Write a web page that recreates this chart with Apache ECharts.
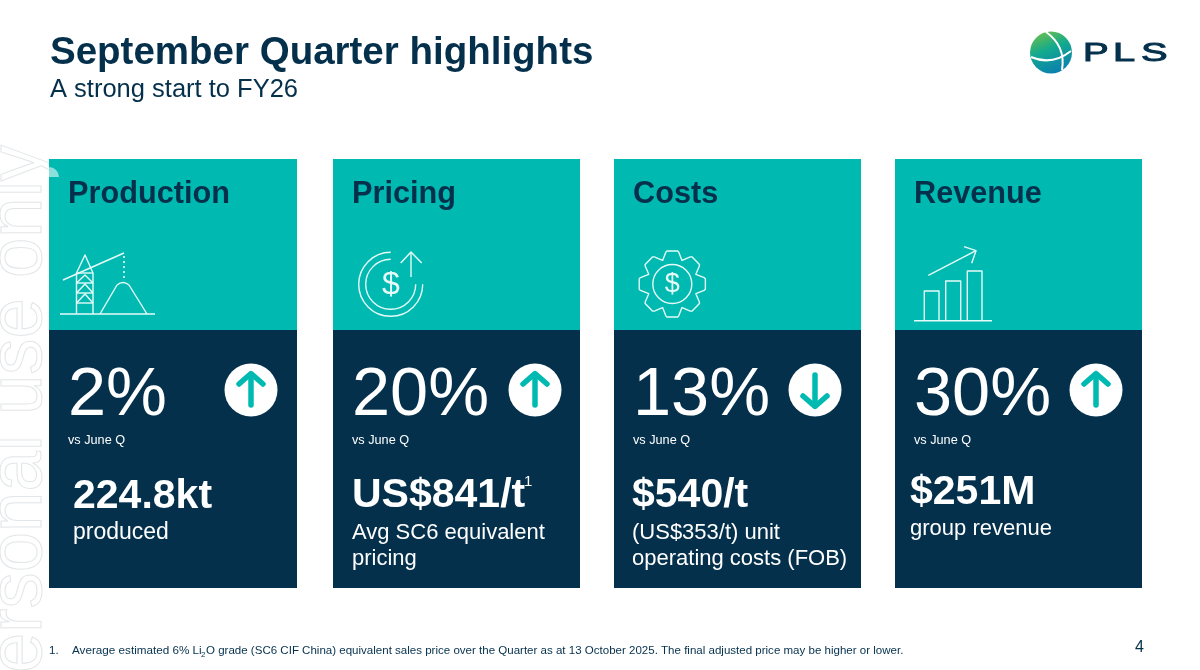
<!DOCTYPE html>
<html><head><meta charset="utf-8">
<style>html,body{margin:0;padding:0;background:#fff}#c{width:1200px;height:670px}</style>
<script src="https://cdn.jsdelivr.net/npm/echarts@6/dist/echarts.min.js"></script>
</head><body><div id="c"></div>
<script>
const titleText = 'September Quarter highlights';
const subtitleText = 'A strong start to FY26';
const watermarkText = 'For personal use only';
const headings = ['Production', 'Pricing', 'Costs', 'Revenue'];
const changes = ['2%', '20%', '13%', '30%'];
const directions = ['up', 'up', 'down', 'up'];
const comparisons = ['vs June Q', 'vs June Q', 'vs June Q', 'vs June Q'];
const metrics = ['224.8kt', 'US$841/t', '$540/t', '$251M'];
const descriptions = ['produced', 'Avg SC6 equivalent\npricing', '(US$353/t) unit\noperating costs (FOB)', 'group revenue'];
const footnoteParts = ['Average estimated 6% Li', '2', 'O grade (SC6 CIF China) equivalent sales price over the Quarter as at 13 October 2025. The final adjusted price may be higher or lower.'];

const NAVY = '#04304c', TEAL = '#00bab2', FAMILY = 'Liberation Sans', ICON = '#e6fbf9';
const cardX = [49, 333, 614, 895];
const textX = [68, 352, 633, 914], metricX = [73, 352, 632, 910], metricY = [497, 496, 496, 493];
const descY = [533, 533, 533, 529], descSize = [23, 22, 22, 22], circleX = [251, 535, 815, 1096];

const g = [];
function txt(x, y, text, size, fill, o) {
  o = o || {};
  g.push({ type: 'text', x, y, scaleX: o.scaleX || 1, z: o.z || 10, silent: true,
    style: { text, fill, fontFamily: FAMILY, fontSize: size, fontWeight: o.bold ? 'bold' : 'normal',
      textAlign: o.align || 'left', verticalAlign: 'middle', lineHeight: o.lh, stroke: o.stroke, lineWidth: o.stroke ? o.slw : 0 } });
}
function rect(x, y, w, h, fill) { g.push({ type: 'rect', silent: true, z: 1, shape: { x, y, width: w, height: h }, style: { fill } }); }
function line(pts, o) {
  o = o || {};
  g.push({ type: o.closed ? 'polygon' : 'polyline', silent: true, z: o.z || 5, shape: { points: pts },
    style: { fill: 'none', stroke: o.stroke || ICON, lineWidth: o.lw || 1.4, lineCap: o.cap || 'butt', lineJoin: 'round', lineDash: o.dash } });
}
function curve(x1, y1, cpx, cpy, x2, y2, o) {
  o = o || {};
  g.push({ type: 'bezierCurve', silent: true, z: o.z || 5, shape: { x1, y1, cpx1: cpx, cpy1: cpy, x2, y2 },
    style: { fill: 'none', stroke: o.stroke || ICON, lineWidth: o.lw || 1.4 } });
}
function arc(cx, cy, r, a0, a1) {
  g.push({ type: 'arc', silent: true, z: 5, shape: { cx, cy, r, startAngle: a0, endAngle: a1, clockwise: false },
    style: { fill: 'none', stroke: ICON, lineWidth: 1.4 } });
}

// watermark
g.push({ type: 'text', x: 58, y: 145, rotation: Math.PI / 2, scaleY: 1.05, z: 0, silent: true,
  style: { text: watermarkText, fontFamily: FAMILY, fontSize: 72.5, fill: 'rgba(0,0,0,0)', stroke: '#e3e6e8', lineWidth: 1, textAlign: 'right', verticalAlign: 'bottom' } });

// header
txt(50, 53, titleText, 38.5, NAVY, { bold: true });
txt(50, 90, subtitleText, 25.5, NAVY);
txt(1135, 648, '4', 16, NAVY);

// cards
headings.forEach((h, i) => {
  rect(cardX[i], 159, i === 0 ? 248 : 247, 171, TEAL);
  rect(cardX[i], 330, i === 0 ? 248 : 247, 258, NAVY);
  txt(textX[i], 195, h, 30.7, NAVY, { bold: true });
  txt(textX[i], 396, changes[i], 68.5, '#fff');
  txt(textX[i], 440, comparisons[i], 12.7, '#fff');
  txt(metricX[i], metricY[i], metrics[i], 41, '#fff', { bold: true });
  txt(metricX[i], descY[i] + (descriptions[i].includes('\n') ? 13 : 0), descriptions[i], descSize[i], '#fff', { lh: 26 });
  const cx = circleX[i], cy = 390, s = directions[i] === 'up' ? 1 : -1;
  g.push({ type: 'circle', silent: true, z: 5, shape: { cx, cy, r: 26.5 }, style: { fill: '#fff' } });
  line([[cx, cy + s * 15], [cx, cy - s * 15]], { stroke: TEAL, lw: 5.5, cap: 'round', z: 6 });
  line([[cx - 12, cy - s * 6], [cx, cy - s * 16.5], [cx + 12, cy - s * 6]], { stroke: TEAL, lw: 5.5, cap: 'round', z: 6 });
});
txt(524, 482, '1', 15, '#fff');

// small smudge on first card
g.push({ type: 'sector', silent: true, z: 2, shape: { cx: 49, cy: 177, r: 10, startAngle: -Math.PI / 2, endAngle: 0, clockwise: true }, style: { fill: 'rgba(255,255,255,0.55)' } });

// production icon
line([[60, 314], [155, 314]]);
line([[76.5, 314], [76.5, 273], [85, 255], [93, 273], [93, 314]]);
line([[63, 280], [124, 253]]);
[273, 283, 293, 303].forEach(y => line([[76.5, y], [93, y]]));
line([[76.5, 283], [85, 275], [93, 283]]); line([[76.5, 293], [85, 284], [93, 293]]); line([[76.5, 303], [85, 294], [93, 303]]);
line([[124, 256], [124, 279]], { dash: [2, 3], lw: 1.6 });
line([[100, 314], [117, 285]]);
curve(117, 285, 123, 280, 129, 285);
line([[129, 285], [147, 314]]);

// pricing icon
arc(390.7, 284.3, 32, -Math.PI / 2, 0);
arc(390.7, 284.3, 25, -Math.PI / 2, 0);
line([[411, 277], [411, 252]]);
line([[400.7, 263], [411, 252], [421.7, 263]]);
txt(391, 285, '$', 32, ICON, { align: 'center' });

// costs icon
(function () {
  const cx = 672.3, cy = 284, R = 33.5, r = 25.5, pts = [];
  for (let k = 0; k < 8; k++) {
    const a = k * Math.PI / 4 - Math.PI / 2, w = 0.2, w2 = 0.39;
    [[r, a - w2], [R - 1, a - w], [R, a - w + 0.04], [R, a + w - 0.04], [R - 1, a + w], [r, a + w2]].forEach(p => {
      pts.push([cx + p[0] * Math.cos(p[1]), cy + p[0] * Math.sin(p[1])]);
    });
  }
  line(pts, { closed: true });
})();
g.push({ type: 'circle', silent: true, z: 5, shape: { cx: 672.3, cy: 284, r: 19.5 }, style: { fill: 'none', stroke: ICON, lineWidth: 1.4 } });
txt(672.3, 285, '$', 27, ICON, { align: 'center' });

// revenue icon
line([[914, 320.7], [992, 320.7]]);
line([[924.3, 320.7], [924.3, 291], [939, 291], [939, 320.7]]);
line([[945.7, 320.7], [945.7, 281], [960.7, 281], [960.7, 320.7]]);
line([[967.3, 320.7], [967.3, 271], [982, 271], [982, 320.7]]);
line([[928.3, 275.3], [976, 250.7]]);
line([[964, 246.7], [976, 250.7], [971.7, 263.3]]);

// footnote
txt(49, 650.5, '1.', 11.5, NAVY);
txt(72, 650.5, footnoteParts[0], 11.7, NAVY);
txt(201, 655, footnoteParts[1], 8, NAVY);
txt(206, 650.5, footnoteParts[2], 11.54, NAVY);

// logo
g.push({ type: 'circle', silent: true, z: 5, shape: { cx: 1051, cy: 52.5, r: 21 },
  style: { fill: new echarts.graphic.LinearGradient(0.2, 0, 0.6, 1, [
    { offset: 0, color: '#6cc04a' }, { offset: 0.45, color: '#13a98f' }, { offset: 1, color: '#0b7fb0' }]) } });
curve(1046, 32, 1066, 46, 1062, 70, { stroke: '#fff', lw: 2, z: 6 });
curve(1031, 57, 1052, 66, 1071, 51, { stroke: '#fff', lw: 2, z: 6 });
txt(1083, 54, 'P', 26.5, NAVY, { scaleX: 1.45, z: 6, stroke: NAVY, slw: 1 });
txt(1113, 54, 'L', 26.5, NAVY, { scaleX: 1.5, z: 6, stroke: NAVY, slw: 1 });
txt(1141, 54, 'S', 26.5, NAVY, { scaleX: 1.5, z: 6, stroke: NAVY, slw: 1 });

const chart = echarts.init(document.getElementById('c'), null, { renderer: 'canvas' });
chart.setOption({ backgroundColor: '#fff', animation: false, graphic: { elements: g } });
</script></body></html>
